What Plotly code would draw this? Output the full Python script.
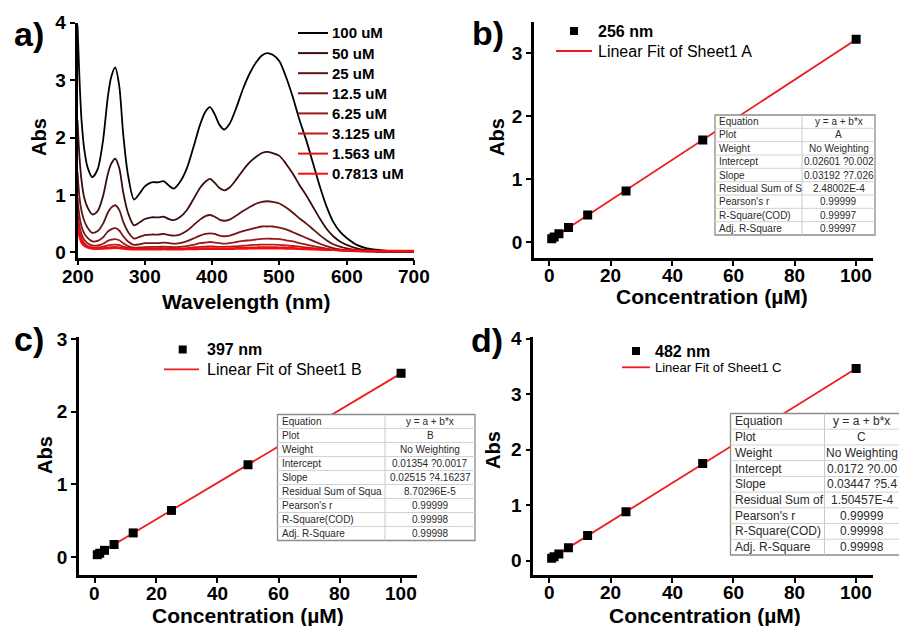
import plotly.graph_objects as go

W, H = 899, 626
FONT = "Arial, Liberation Sans, sans-serif"

# ---------------- Panel a: UV-Vis spectra ----------------
wavelength = [200, 203, 206, 210, 215, 222, 230, 238, 245, 250, 256, 262, 268, 275, 284,
              292, 300, 310, 320, 328, 336, 343, 352, 362, 372, 382, 390, 397, 404, 411,
              418, 426, 436, 446, 456, 466, 474, 482, 490, 500, 510, 520, 530, 540, 550,
              560, 570, 580, 590, 600, 615, 630, 650, 675, 700]

abs_100uM = [3.95, 3.00, 2.30, 1.80, 1.48, 1.31, 1.45, 1.95, 2.70, 3.05, 3.22, 2.90, 2.05, 1.35, 0.92,
             1.02, 1.15, 1.22, 1.22, 1.24, 1.16, 1.11, 1.22, 1.45, 1.82, 2.22, 2.45, 2.53, 2.40, 2.22,
             2.14, 2.24, 2.52, 2.85, 3.12, 3.32, 3.43, 3.47, 3.44, 3.33, 3.05, 2.70, 2.30, 1.95, 1.55,
             1.15, 0.80, 0.53, 0.36, 0.25, 0.13, 0.07, 0.04, 0.02, 0.015]
abs_50uM = [2.30, 1.65, 1.25, 0.95, 0.78, 0.66, 0.72, 0.98, 1.36, 1.54, 1.63, 1.47, 1.04, 0.69, 0.47,
            0.52, 0.58, 0.61, 0.61, 0.62, 0.58, 0.56, 0.61, 0.73, 0.92, 1.12, 1.23, 1.28, 1.21, 1.12,
            1.08, 1.13, 1.27, 1.43, 1.57, 1.67, 1.73, 1.75, 1.73, 1.68, 1.54, 1.37, 1.17, 0.99, 0.79,
            0.59, 0.41, 0.28, 0.19, 0.13, 0.07, 0.04, 0.025, 0.015, 0.01]
abs_25uM = [1.40, 0.95, 0.72, 0.55, 0.43, 0.34, 0.37, 0.50, 0.69, 0.78, 0.82, 0.74, 0.53, 0.36, 0.24,
            0.27, 0.30, 0.31, 0.31, 0.32, 0.30, 0.29, 0.31, 0.37, 0.47, 0.57, 0.63, 0.65, 0.62, 0.57,
            0.55, 0.57, 0.64, 0.72, 0.79, 0.85, 0.88, 0.89, 0.88, 0.85, 0.78, 0.69, 0.59, 0.50, 0.40,
            0.30, 0.21, 0.14, 0.10, 0.07, 0.04, 0.025, 0.015, 0.01, 0.01]
abs_12_5uM = [0.95, 0.62, 0.45, 0.33, 0.25, 0.19, 0.20, 0.26, 0.36, 0.40, 0.42, 0.38, 0.28, 0.19, 0.13,
              0.14, 0.16, 0.16, 0.16, 0.17, 0.16, 0.15, 0.16, 0.19, 0.24, 0.29, 0.32, 0.33, 0.32, 0.29,
              0.28, 0.29, 0.33, 0.37, 0.40, 0.43, 0.45, 0.45, 0.45, 0.43, 0.40, 0.35, 0.30, 0.25, 0.20,
              0.15, 0.11, 0.075, 0.05, 0.035, 0.02, 0.015, 0.01, 0.008, 0.006]
abs_6_25uM = [0.70, 0.45, 0.32, 0.22, 0.16, 0.12, 0.12, 0.15, 0.20, 0.22, 0.23, 0.21, 0.16, 0.11, 0.08,
              0.085, 0.09, 0.095, 0.095, 0.10, 0.095, 0.09, 0.095, 0.11, 0.13, 0.16, 0.17, 0.18, 0.17, 0.16,
              0.15, 0.16, 0.18, 0.20, 0.21, 0.225, 0.235, 0.24, 0.235, 0.23, 0.21, 0.19, 0.16, 0.135, 0.11,
              0.085, 0.065, 0.045, 0.033, 0.025, 0.018, 0.014, 0.01, 0.008, 0.006]
abs_3_125uM = [0.58, 0.36, 0.24, 0.16, 0.11, 0.085, 0.085, 0.10, 0.12, 0.13, 0.135, 0.125, 0.10, 0.08, 0.065,
               0.065, 0.068, 0.07, 0.07, 0.072, 0.07, 0.068, 0.07, 0.075, 0.085, 0.095, 0.10, 0.105, 0.10, 0.095,
               0.095, 0.10, 0.105, 0.115, 0.125, 0.13, 0.135, 0.135, 0.135, 0.13, 0.12, 0.11, 0.10, 0.085, 0.072,
               0.06, 0.05, 0.04, 0.033, 0.028, 0.024, 0.021, 0.019, 0.017, 0.015]
abs_1_563uM = [0.48, 0.30, 0.19, 0.13, 0.09, 0.07, 0.068, 0.075, 0.085, 0.09, 0.093, 0.088, 0.075, 0.063, 0.055,
               0.055, 0.056, 0.057, 0.057, 0.058, 0.057, 0.056, 0.057, 0.06, 0.064, 0.07, 0.073, 0.075, 0.073, 0.07,
               0.07, 0.072, 0.076, 0.08, 0.085, 0.088, 0.09, 0.09, 0.09, 0.088, 0.083, 0.078, 0.07, 0.063, 0.056,
               0.05, 0.044, 0.039, 0.035, 0.032, 0.029, 0.027, 0.025, 0.023, 0.022]
abs_0_7813uM = [0.42, 0.26, 0.16, 0.11, 0.08, 0.06, 0.058, 0.06, 0.066, 0.07, 0.072, 0.068, 0.06, 0.053, 0.048,
                0.048, 0.048, 0.049, 0.049, 0.05, 0.049, 0.048, 0.049, 0.05, 0.052, 0.055, 0.057, 0.058, 0.057, 0.056,
                0.056, 0.057, 0.059, 0.061, 0.063, 0.065, 0.066, 0.066, 0.066, 0.065, 0.062, 0.059, 0.055, 0.051, 0.047,
                0.044, 0.041, 0.038, 0.036, 0.034, 0.032, 0.031, 0.03, 0.029, 0.028]

spectrum_names = ["100 uM", "50 uM", "25 uM", "12.5 uM", "6.25 uM", "3.125 uM", "1.563 uM", "0.7813 uM"]
spectrum_values = [abs_100uM, abs_50uM, abs_25uM, abs_12_5uM, abs_6_25uM, abs_3_125uM, abs_1_563uM, abs_0_7813uM]
spectrum_colors = ["#000000", "#3a0c0c", "#5c1414", "#7a1414", "#9c1a1a", "#bf1a1a", "#dd1212", "#ff0a0a"]

# ---------------- Panels b-d: calibration ----------------
concentration = [0.7813, 1.563, 3.125, 6.25, 12.5, 25, 50, 100]
abs_256nm = [0.05, 0.08, 0.13, 0.23, 0.43, 0.81, 1.62, 3.22]
abs_397nm = [0.03, 0.05, 0.09, 0.17, 0.33, 0.64, 1.27, 2.53]
abs_482nm = [0.04, 0.07, 0.12, 0.23, 0.45, 0.88, 1.75, 3.46]

fit_intercept = [0.02601, 0.01354, 0.0172]
fit_slope = [0.03192, 0.02515, 0.03447]
intercept_err = ["?0.002", "?0.0017", "?0.00"]
slope_err = ["?7.026", "?4.16237", "?5.4"]
plot_names = ["A", "B", "C"]
residual_labels = ["Residual Sum of S", "Residual Sum of Squa", "Residual Sum of"]
residual_values = ["2.48002E-4", "8.70296E-5", "1.50457E-4"]
pearson_r = ["0.99999", "0.99999", "0.99999"]
r_square = ["0.99997", "0.99998", "0.99998"]
adj_r_square = ["0.99997", "0.99998", "0.99998"]
wavelength_labels = ["256 nm", "397 nm", "482 nm"]

wl_ticks = [200, 300, 400, 500, 600, 700]
conc_ticks = [0, 20, 40, 60, 80, 100]


def px(x):
    return x / W


def py(y):
    return 1 - y / H


fig = go.Figure()

for name, vals, col in zip(spectrum_names, spectrum_values, spectrum_colors):
    fig.add_trace(go.Scatter(x=wavelength, y=vals, mode="lines", name=name,
                             line=dict(color=col, width=1.8, shape="spline", smoothing=0.8),
                             xaxis="x", yaxis="y", showlegend=False))

cal_sets = [abs_256nm, abs_397nm, abs_482nm]
axis_ids = [("x2", "y2"), ("x3", "y3"), ("x4", "y4")]
for i, (vals, (xa, ya)) in enumerate(zip(cal_sets, axis_ids)):
    x_fit = [concentration[0], concentration[-1]]
    y_fit = [fit_intercept[i] + fit_slope[i] * c for c in x_fit]
    fig.add_trace(go.Scatter(x=x_fit, y=y_fit, mode="lines",
                             line=dict(color="#ee1c1c", width=1.8),
                             xaxis=xa, yaxis=ya, showlegend=False))
    fig.add_trace(go.Scatter(x=concentration, y=vals, mode="markers",
                             marker=dict(symbol="square", size=9, color="#000000"),
                             xaxis=xa, yaxis=ya, showlegend=False))

tickfont = dict(family=FONT, size=19, color="#000000", weight="bold")
axis_common = dict(showline=True, linecolor="#000000", linewidth=2.6, ticks="outside",
                   ticklen=5, tickwidth=2, tickcolor="#000000", showgrid=False,
                   zeroline=False, tickfont=tickfont, mirror=False)

fig.update_layout(
    width=W, height=H, autosize=False,
    margin=dict(l=0, r=0, t=0, b=0, autoexpand=False),
    paper_bgcolor="white", plot_bgcolor="white",
    xaxis=dict(domain=[px(77.5), px(414)], range=[200, 700], tickvals=wl_ticks,
               showticklabels=False, anchor="y", **axis_common),
    yaxis=dict(domain=[py(257.5), py(22.7)], range=[-0.09, 4.0], tickvals=[0, 1, 2, 3, 4],
               anchor="x", **axis_common),
    xaxis2=dict(domain=[px(534), px(872.7)], range=[-5, 105.4], tickvals=conc_ticks,
                showticklabels=False, anchor="y2", **axis_common),
    yaxis2=dict(domain=[py(257.7), py(21.7)], range=[-0.25, 3.5], tickvals=[0, 1, 2, 3],
                anchor="x2", **axis_common),
    xaxis3=dict(domain=[px(79), px(416.7)], range=[-5.2, 105.1], tickvals=conc_ticks,
                showticklabels=False, anchor="y3", **axis_common),
    yaxis3=dict(domain=[py(575), py(337)], range=[-0.25, 3.03], tickvals=[0, 1, 2, 3],
                anchor="x3", **axis_common),
    xaxis4=dict(domain=[px(533.3), px(872.7)], range=[-5.2, 105.4], tickvals=conc_ticks,
                showticklabels=False, anchor="y4", **axis_common),
    yaxis4=dict(domain=[py(575), py(337)], range=[-0.26, 4.03], tickvals=[0, 1, 2, 3, 4],
                anchor="x4", **axis_common),
)

annotations = []
shapes = []


def text(x, y, s, size, bold=False, xanchor="left", angle=0, color="#000000", yanchor="middle"):
    annotations.append(dict(x=px(x), y=py(y), xref="paper", yref="paper", text=s, showarrow=False,
                            xanchor=xanchor, yanchor=yanchor, textangle=angle,
                            font=dict(family=FONT, size=size, color=color,
                                      weight="bold" if bold else "normal")))


# x tick labels, placed on the data scale of each x axis
for xref, ticks, ylab in [("x", wl_ticks, 276.5), ("x2", conc_ticks, 276),
                          ("x3", conc_ticks, 593.3), ("x4", conc_ticks, 592.7)]:
    for t in ticks:
        annotations.append(dict(x=t, y=py(ylab), xref=xref, yref="paper", text=str(t),
                                showarrow=False, xanchor="center", yanchor="middle",
                                font=dict(family=FONT, size=19, color="#000000", weight="bold")))

# panel letters
text(12, 34, "a)", 34, bold=True)
text(470, 33, "b)", 34, bold=True)
text(12, 339, "c)", 34, bold=True)
text(469, 340, "d)", 34, bold=True)

# axis titles
text(39, 137, "Abs", 20, bold=True, xanchor="center", angle=-90)
text(246, 301, "Wavelength (nm)", 21, bold=True, xanchor="center")
text(497, 137, "Abs", 20, bold=True, xanchor="center", angle=-90)
text(712, 296.5, "Concentration (µM)", 21, bold=True, xanchor="center")
text(45, 455, "Abs", 20, bold=True, xanchor="center", angle=-90)
text(248, 615, "Concentration (µM)", 21, bold=True, xanchor="center")
text(493, 450, "Abs", 20, bold=True, xanchor="center", angle=-90)
text(705, 615, "Concentration (µM)", 21, bold=True, xanchor="center")

# panel a legend
for k, (name, col) in enumerate(zip(spectrum_names, spectrum_colors)):
    yy = 33 + k * 20.1
    shapes.append(dict(type="line", xref="paper", yref="paper", x0=px(298), x1=px(328),
                       y0=py(yy), y1=py(yy), line=dict(color=col, width=2)))
    text(330, yy, name, 15, bold=True)

# legends of calibration panels: (marker x, marker y, text x, line x0, line x1, line y, font size)
legend_pos = [(574, 31, 596, 556, 592, 51, 16),
              (182.7, 349.5, 205, 164, 199, 369.3, 16),
              (636, 351, 653, 622, 650, 367.3, 13)]
for i, (mx, my, tx, lx0, lx1, ly, fs) in enumerate(legend_pos):
    shapes.append(dict(type="rect", xref="paper", yref="paper", x0=px(mx - 4), x1=px(mx + 4),
                       y0=py(my + 4), y1=py(my - 4), fillcolor="#000000", line=dict(width=0)))
    text(tx, my, wavelength_labels[i], 16, bold=True)
    shapes.append(dict(type="line", xref="paper", yref="paper", x0=px(lx0), x1=px(lx1),
                       y0=py(ly), y1=py(ly), line=dict(color="#ee1c1c", width=1.8)))
    text(tx, ly, "Linear Fit of Sheet1 " + plot_names[i], fs)

# fit summary tables: (x0, x1, split, value-column centre, y0, y1, font size)
table_pos = [(715, 875, 802, 838.5, 115, 235, 10),
             (277.5, 475, 385, 430, 414.5, 540.5, 10),
             (730.5, 905, 824.5, 861.5, 413.5, 555, 12)]
for i, (x0, x1, xs, xc, y0, y1, fs) in enumerate(table_pos):
    labels = ["Equation", "Plot", "Weight", "Intercept", "Slope", residual_labels[i],
              "Pearson's r", "R-Square(COD)", "Adj. R-Square"]
    values = ["y = a + b*x", plot_names[i], "No Weighting",
              f"{fit_intercept[i]} {intercept_err[i]}", f"{fit_slope[i]} {slope_err[i]}",
              residual_values[i], pearson_r[i], r_square[i], adj_r_square[i]]
    shapes.append(dict(type="rect", xref="paper", yref="paper", x0=px(x0), x1=px(x1),
                       y0=py(y1), y1=py(y0), fillcolor="white", line=dict(color="#8c8c8c", width=1.3)))
    shapes.append(dict(type="line", xref="paper", yref="paper", x0=px(xs), x1=px(xs),
                       y0=py(y1), y1=py(y0), line=dict(color="#c8c8c8", width=1)))
    rh = (y1 - y0) / 9
    for r in range(1, 9):
        yy = y0 + r * rh
        shapes.append(dict(type="line", xref="paper", yref="paper", x0=px(x0), x1=px(x1),
                           y0=py(yy), y1=py(yy), line=dict(color="#d2d2d2", width=1)))
    for r in range(9):
        yc = y0 + (r + 0.5) * rh
        text(x0 + 2, yc, labels[r], fs, color="#2a2a2a")
        text(xc, yc, values[r], fs, color="#2a2a2a", xanchor="center")

fig.update_layout(annotations=annotations, shapes=shapes)
fig.write_html("out.html")
